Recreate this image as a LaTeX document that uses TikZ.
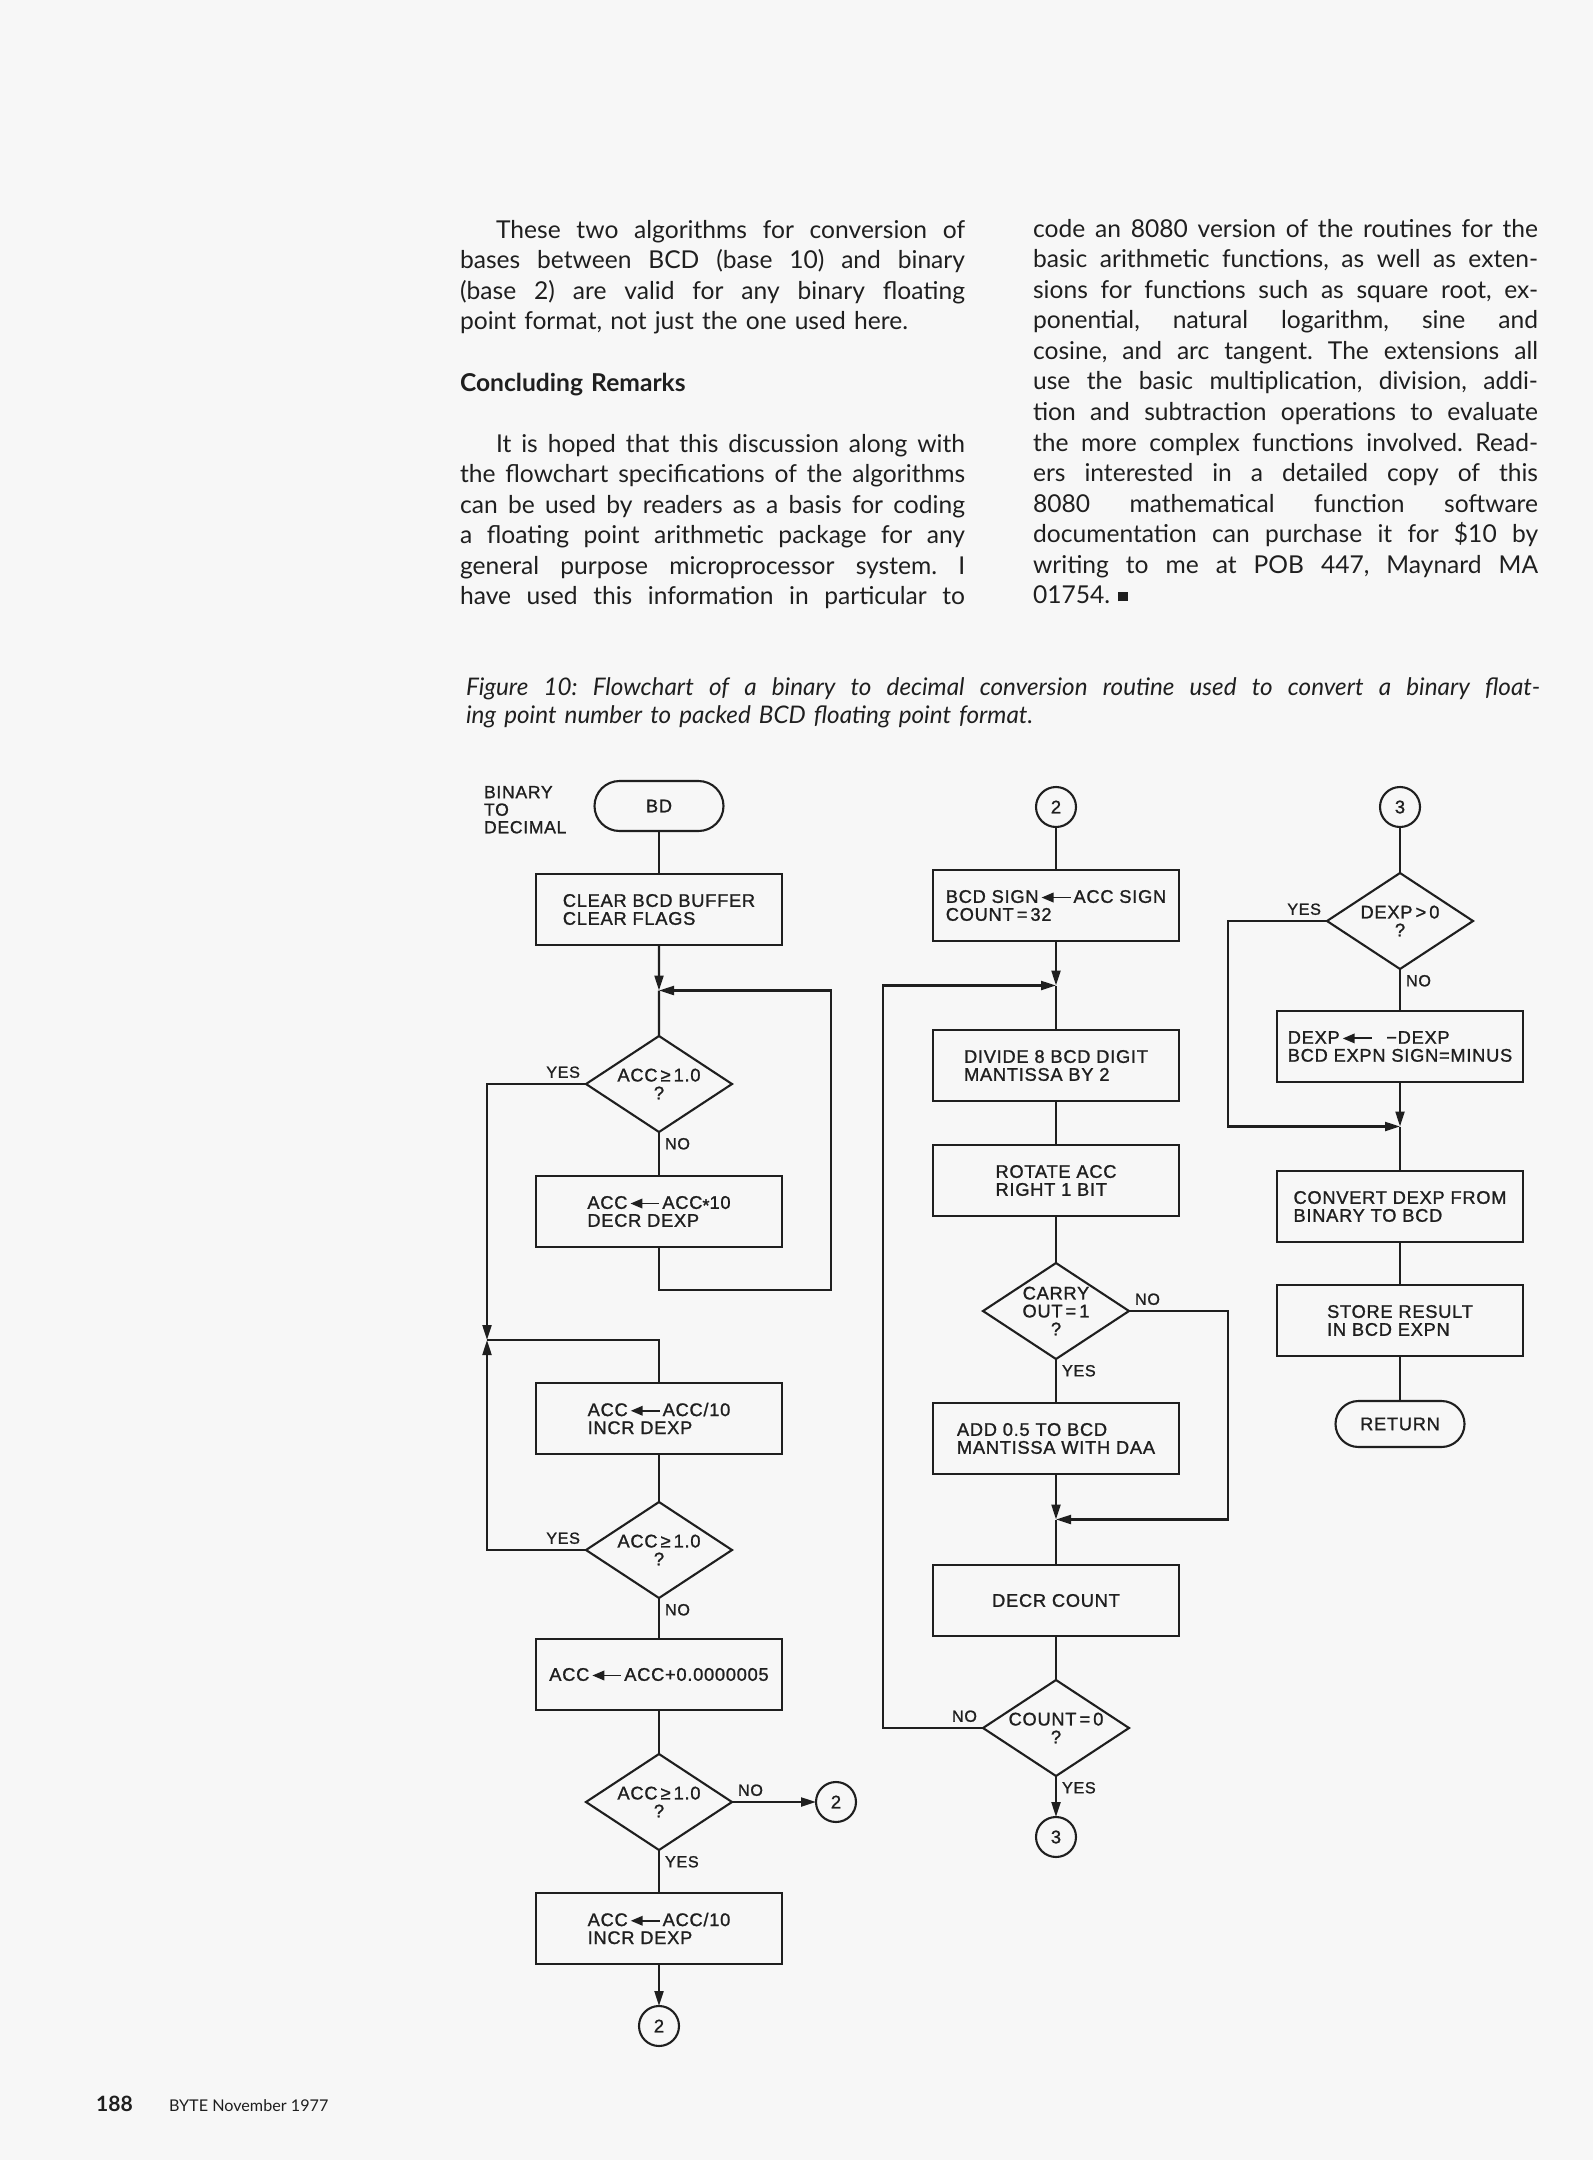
\documentclass[tikz,border=0pt]{standalone}
\usepackage{fontspec}
\setmainfont{Lato}
\newfontfamily\chartfont[LetterSpace=4,FakeBold=1.2]{Liberation Sans}
\usetikzlibrary{shapes.geometric,arrows.meta,positioning,calc}
\definecolor{ink}{gray}{0.12}\definecolor{paper}{gray}{0.97}
\frenchspacing
\newcommand{\cf}{\chartfont\fontsize{5.2}{5.1}\selectfont}
\newcommand{\jl}[1]{\makebox[\linewidth][s]{\spaceskip=0pt\xspaceskip=0pt\relax#1}}
\newcommand{\lar}{\hspace{0.2mm}\tikz[baseline=-0.55ex]\draw[line width=0.55pt,{Triangle[length=1.2mm,width=0.95mm]}-](0,0)--(2.9mm,0);\hspace{0.2mm}}
\tikzset{bx/.style={draw,align=left,font=\cf,minimum width=24.6mm,minimum height=7.1mm,inner sep=1pt,outer sep=0pt},
 dm/.style={draw,diamond,aspect=1.52,align=center,font=\cf,minimum width=14.6mm,minimum height=9.6mm,inner sep=0pt,outer sep=0pt},
 tm/.style={draw,rounded corners=2.5mm,minimum width=12.9mm,minimum height=5mm,font=\cf,outer sep=0pt},
 cn/.style={draw,circle,minimum size=4mm,inner sep=0pt,font=\cf,outer sep=0pt},
 ar/.style={-{Triangle[length=1.5mm,width=0.9mm]}},lb/.style={font=\chartfont\fontsize{4.6}{4.6}\selectfont,inner sep=0.5mm},
 para/.style={anchor=base west,inner sep=0pt,text width=50.5mm,align=left,font=\fontsize{7}{8.7}\selectfont}}

\begin{document}
\begin{tikzpicture}[x=0.1mm,y=-0.1mm,line width=0.6pt,color=ink]
\path[use as bounding box,fill=paper](0,0)rectangle(1593,2160);
% page text
\node[para](p1) at (459,238){\jl{\hspace*{3.6mm}These two algorithms for conversion of}\\\jl{bases between BCD (base 10) and binary}\\\jl{(base 2) are valid for any binary floating}\\point format, not just the one used here.};
\node[para,font=\bfseries\fontsize{7}{8.7}\selectfont](hd) at (459,391){Concluding Remarks};
\node[para](p2) at (459,452){\jl{\hspace*{3.6mm}It is hoped that this discussion along with}\\\jl{the flowchart specifications of the algorithms}\\\jl{can be used by readers as a basis for coding}\\\jl{a floating point arithmetic package for any}\\\jl{general purpose microprocessor system. I}\\\jl{have used this information in particular to}};
\node[para](p3) at (1032,237){\jl{code an 8080 version of the routines for the}\\\jl{basic arithmetic functions, as well as exten-}\\\jl{sions for functions such as square root, ex-}\\\jl{ponential, natural logarithm, sine and}\\\jl{cosine, and arc tangent. The extensions all}\\\jl{use the basic multiplication, division, addi-}\\\jl{tion and subtraction operations to evaluate}\\\jl{the more complex functions involved. Read-}\\\jl{ers interested in a detailed copy of this}\\\jl{8080 mathematical function software}\\\jl{documentation can purchase it for \$10 by}\\\jl{writing to me at POB 447, Maynard MA}\\01754. \rule[0.2ex]{2.6pt}{2.6pt}};
\node[para,text width=107.4mm,font=\itshape\fontsize{6.9}{8.2}\selectfont](fig) at (465,695){\jl{Figure 10: Flowchart of a binary to decimal conversion routine used to convert a binary float-}\\ing point number to packed BCD floating point format.};
\node[anchor=base west,inner sep=0pt,font=\bfseries\fontsize{6}{6}\selectfont](pg) at (95,2111){188};
\node[anchor=base west,inner sep=0pt,font=\fontsize{4.6}{5}\selectfont](mag) at (168,2111){BYTE November 1977};
% left column
\node[anchor=north west,align=left,inner sep=0pt,font=\chartfont\fontsize{5}{5}\selectfont](ttl) at (483,785){BINARY\\TO\\DECIMAL};
\node[tm](bd) at (659,806){BD};\node[bx,below=4.3mm of bd](b1){CLEAR BCD BUFFER\\CLEAR FLAGS};
\node[dm,below=9.1mm of b1](d1){ACC\,≥\,1.0\\?};\node[bx,below=4.4mm of d1](b2){ACC\lar ACC\raisebox{-0.3ex}{*}10\\DECR DEXP};
\node[bx,below=13.6mm of b2](b3){ACC\lar ACC/10\\INCR DEXP};\node[dm,below=4.8mm of b3](d2){ACC\,≥\,1.0\\?};
\node[bx,below=4.1mm of d2](b4){ACC\lar ACC+0.0000005};\node[dm,below=4.4mm of b4](d3){ACC\,≥\,1.0\\?};
\node[cn,right=8.4mm of d3](c2a){2};\node[bx,below=4.3mm of d3](b5){ACC\lar ACC/10\\INCR DEXP};
\node[cn,below=4.2mm of b5](c2b){2};
% middle column
\node[cn](c2) at (1056,807){2};\node[bx,below=4.3mm of c2](b6){BCD SIGN\lar ACC SIGN\\COUNT\,=\,32};
\node[bx,below=8.9mm of b6](b7){DIVIDE 8 BCD DIGIT\\MANTISSA BY 2};\node[bx,below=4.4mm of b7](b8){ROTATE ACC\\RIGHT 1 BIT};
\node[dm,below=4.7mm of b8](d4){CARRY\\OUT\,=\,1\\?};\node[bx,below=4.4mm of d4](b9){ADD 0.5 TO BCD\\MANTISSA WITH DAA};
\node[bx,below=9.1mm of b9](b10){DECR COUNT};\node[dm,below=4.4mm of b10](d5){COUNT\,=\,0\\?};
\node[cn,below=4.1mm of d5](c3b){3};
% right column
\node[cn](c3) at (1400,807){3};\node[dm,below=4.6mm of c3](d6){DEXP\,>\,0\\?};
\node[bx,below=4.2mm of d6](b11){DEXP\lar\ \ −DEXP\\BCD EXPN SIGN=MINUS};\node[bx,below=8.9mm of b11](b12){CONVERT DEXP FROM\\BINARY TO BCD};
\node[bx,below=4.3mm of b12](b13){STORE RESULT\\IN BCD EXPN};\node[tm,minimum height=4.6mm,rounded corners=2.3mm,below=4.5mm of b13](ret){RETURN};
% junctions
\coordinate(m1) at ($(b1.south)!.5!(d1.north)$);\coordinate(r1) at ($(m1)+(172,0)$);\coordinate(m2) at (487,1340);
\coordinate(m3) at ($(b6.south)!.5!(b7.north)$);\coordinate(l5) at ($(m3)+(-173,0)$);
\coordinate(m4) at ($(b9.south)!.5!(b10.north)$);\coordinate(r4) at ($(m4)+(172,0)$);
\coordinate(m5) at ($(b11.south)!.5!(b12.north)$);\coordinate(l6) at ($(m5)+(-172,0)$);
% connectors
\draw(bd)--(b1);\draw[ar](b1)--(m1);\draw(m1)--(d1);\draw(d1.south)node[lb,anchor=north west]{NO}--(b2);
\draw[ar](b2.south)--++(0,43)-|(r1)--(m1);\draw[ar](d1.west)node[lb,anchor=south east]{YES}-|(m2);
\draw(m2)-|(b3.north);\draw(b3)--(d2);\draw[ar](d2.west)node[lb,anchor=south east]{YES}-|(m2);
\draw(d2.south)node[lb,anchor=north west]{NO}--(b4);\draw(b4)--(d3);\draw[ar](d3.east)node[lb,anchor=south west]{NO}--(c2a);
\draw(d3.south)node[lb,anchor=north west]{YES}--(b5);\draw[ar](b5)--(c2b);
\draw(c2)--(b6);\draw[ar](b6)--(m3);\draw(m3)--(b7);\draw(b7)--(b8);\draw(b8)--(d4);
\draw(d4.south)node[lb,anchor=north west]{YES}--(b9);\draw[ar](d4.east)node[lb,anchor=south west]{NO}-|(r4)--(m4);
\draw[ar](b9)--(m4);\draw(m4)--(b10);\draw(b10)--(d5);\draw[ar](d5.west)node[lb,anchor=south east]{NO}-|(l5)--(m3);
\draw[ar](d5.south)node[lb,anchor=north west]{YES}--(c3b);
\draw(c3)--(d6);\draw(d6.south)node[lb,anchor=north west]{NO}--(b11);\draw[ar](b11)--(m5);\draw(m5)--(b12);
\draw[ar](d6.west)node[lb,anchor=south east]{YES}-|(l6)--(m5);\draw(b12)--(b13);\draw(b13)--(ret);
\end{tikzpicture}
\end{document}
